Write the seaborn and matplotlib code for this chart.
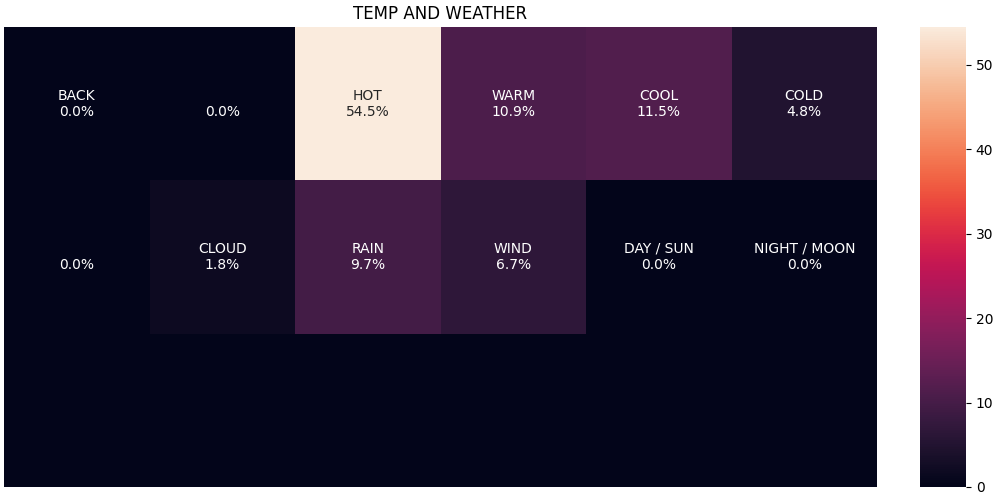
import numpy as np
import seaborn as sns
import matplotlib.pyplot as plt

# grid layout: 3 rows x 6 cols, last row unused
row_top = ['BACK', '', 'HOT', 'WARM', 'COOL', 'COLD']
row_mid = ['', 'CLOUD', 'RAIN', 'WIND', 'DAY / SUN', 'NIGHT / MOON']
val_top = [0.0, 0.0, 54.5, 10.9, 11.5, 4.8]
val_mid = [0.0, 1.8, 9.7, 6.7, 0.0, 0.0]
val_bot = [0.0, 0.0, 0.0, 0.0, 0.0, 0.0]

values = np.array([val_top, val_mid, val_bot])

# build the cell labels, empty for the unused row
labels = []
for names, vals in [(row_top, val_top), (row_mid, val_mid)]:
    labels.append([f'{n}\n{v:.1f}%' for n, v in zip(names, vals)])
labels.append(['' for _ in val_bot])
labels = np.array(labels)

fig = plt.figure(figsize=(10, 5), dpi=100)
ax = fig.add_axes([0.004, 0.026, 0.873, 0.92])
cax = fig.add_axes([0.92, 0.026, 0.046, 0.92])
sns.heatmap(values, annot=labels, fmt='', xticklabels=False, yticklabels=False,
            ax=ax, cbar_ax=cax)
ax.set_title('TEMP AND WEATHER')
plt.savefig('out.png')
